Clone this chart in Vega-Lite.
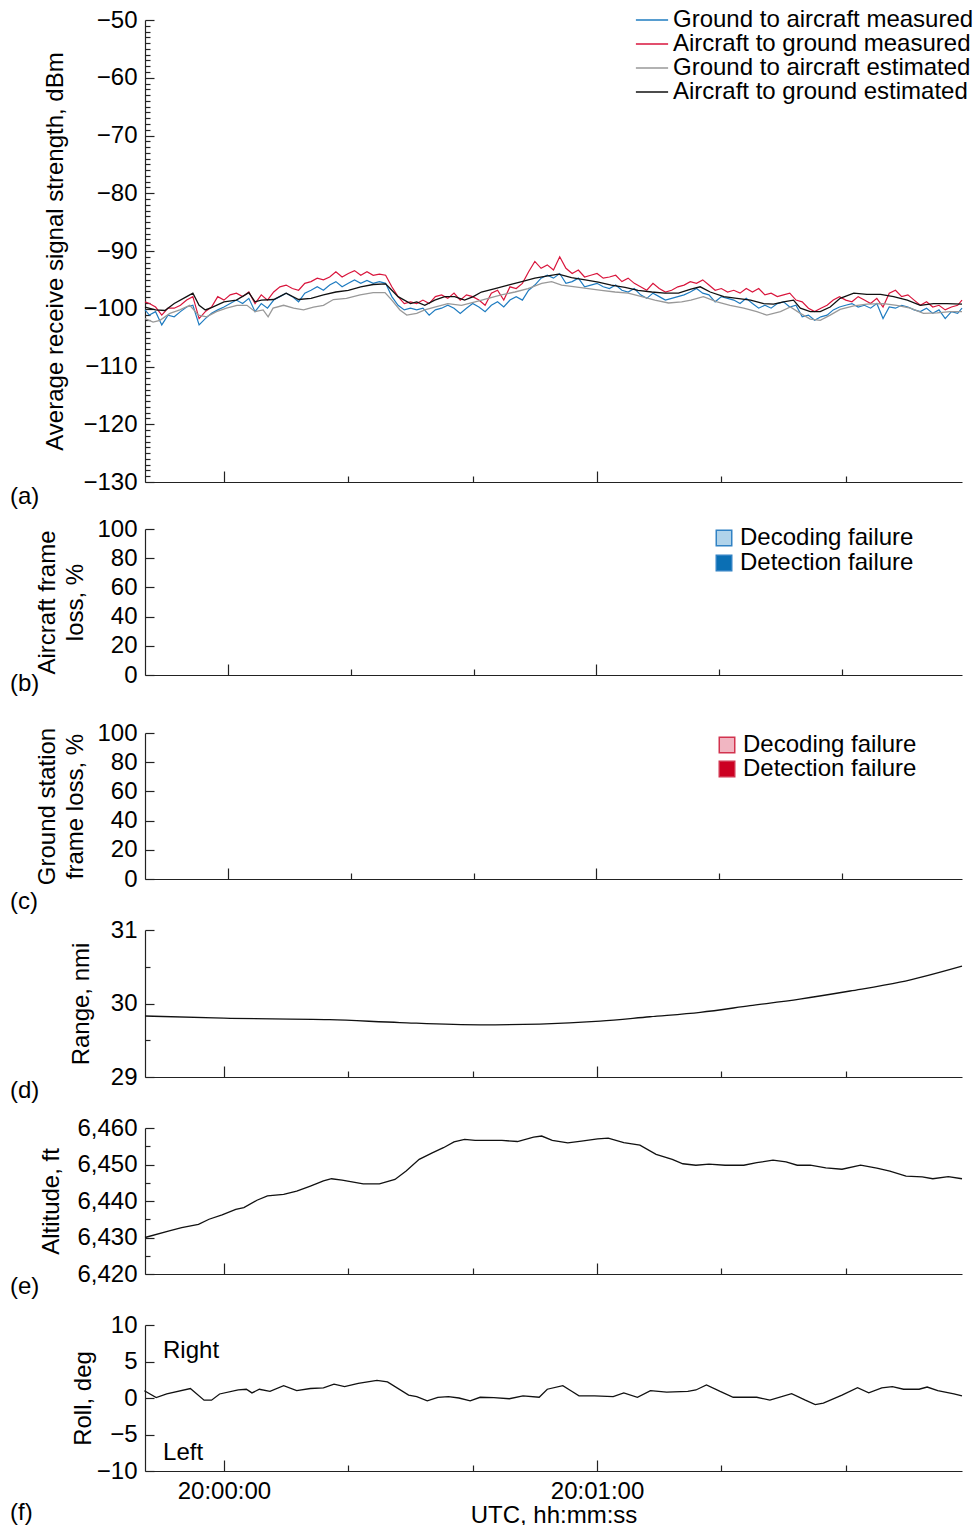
{
  "$schema": "https://vega.github.io/schema/vega-lite/v6.json",
  "background": "white",
  "padding": {"left": 10, "top": 8, "right": 5, "bottom": 0},
  "spacing": 47,
  "bounds": "flush",
  "resolve": {"scale": {"x": "independent", "y": "independent", "color": "independent"}},
  "vconcat": [
    {
      "width": 817,
      "height": 462,
      "title": {"text": "(a)", "orient": "bottom", "anchor": "start", "frame": "group", "dx": -135, "offset": -9},
      "encoding": {
        "x": {"field": "t", "type": "quantitative", "scale": {"domain": [-12.7, 118.7], "nice": false, "zero": false},
          "axis": {"values": [0, 20, 40, 60, 80, 100], "labels": false, "title": null, "tickSize": {"condition": {"test": "datum.value % 60 === 0", "value": -11}, "value": -6}}},
        "y": {"field": "v", "type": "quantitative", "scale": {"domain": [-130, -50], "nice": false, "zero": false},
          "axis": {"title": "Average receive signal strength, dBm", "titlePadding": 15, "labelPadding": 17,
            "values": [-130,-129,-128,-127,-126,-125,-124,-123,-122,-121,-120,-119,-118,-117,-116,-115,-114,-113,-112,-111,-110,-109,-108,-107,-106,-105,-104,-103,-102,-101,-100,-99,-98,-97,-96,-95,-94,-93,-92,-91,-90,-89,-88,-87,-86,-85,-84,-83,-82,-81,-80,-79,-78,-77,-76,-75,-74,-73,-72,-71,-70,-69,-68,-67,-66,-65,-64,-63,-62,-61,-60,-59,-58,-57,-56,-55,-54,-53,-52,-51,-50],
            "labelExpr": "datum.value % 10 === 0 ? format(datum.value, 'd') : ''",
            "tickSize": {"condition": {"test": "datum.value % 10 === 0", "value": -9}, "value": -5}}},
        "color": {"field": "s", "type": "nominal",
          "scale": {"domain": ["gm", "am", "ge", "ae"], "range": ["#1f7cc1", "#d9153c", "#999999", "#111111"]},
          "legend": {"orient": "none", "legendX": 495, "legendY": -12, "title": null, "symbolType": "M-2.3,0H2.3", "symbolSize": 196, "symbolStrokeWidth": 1.5, "labelOffset": 9, "rowPadding": 0,
            "labelExpr": "datum.label == 'gm' ? 'Ground to aircraft measured' : datum.label == 'am' ? 'Aircraft to ground measured' : datum.label == 'ge' ? 'Ground to aircraft estimated' : 'Aircraft to ground estimated'"}}
      },
      "layer": [
        {
          "data": {"values": [
            {"t":-12.7,"gm":-100.2,"am":-98.8},{"t":-12,"gm":-101.1,"am":-99.1},{"t":-11,"gm":-100.5,"am":-99.7},{"t":-10,"gm":-102.8,"am":-101.1},{"t":-9,"gm":-101.1,"am":-99.9},{"t":-8,"gm":-101.4,"am":-99.9},{"t":-7,"gm":-100.5,"am":-99.4},{"t":-6,"gm":-99.7,"am":-98.5},{"t":-5,"gm":-99.4,"am":-97.9},{"t":-4,"gm":-102.8,"am":-101.7},{"t":-3,"gm":-101.7,"am":-100.5},{"t":-2,"gm":-100.8,"am":-99.7},{"t":-1,"gm":-100.2,"am":-97.9},
            {"t":0,"gm":-99.7,"am":-98.5},{"t":1,"gm":-99.1,"am":-97.6},{"t":2,"gm":-98.5,"am":-97.3},{"t":3,"gm":-99.1,"am":-97.9},{"t":4,"gm":-98.2,"am":-97.1},{"t":5,"gm":-100.5,"am":-99.1},{"t":6,"gm":-99.1,"am":-97.6},{"t":7,"gm":-99.9,"am":-98.5},{"t":8,"gm":-98.5,"am":-97.1},{"t":9,"gm":-97.9,"am":-96.2},{"t":10,"gm":-97.3,"am":-95.9},{"t":11,"gm":-97.9,"am":-96.5},{"t":12,"gm":-98.8,"am":-96.8},{"t":13,"gm":-97.3,"am":-95.6},{"t":14,"gm":-96.8,"am":-95.3},{"t":15,"gm":-96.2,"am":-94.7},{"t":16,"gm":-96.8,"am":-95.0},{"t":17,"gm":-95.9,"am":-94.5},{"t":18,"gm":-95.3,"am":-93.6},{"t":19,"gm":-96.2,"am":-94.5},{"t":20,"gm":-95.6,"am":-93.9},{"t":21,"gm":-95.0,"am":-93.4},{"t":22,"gm":-95.6,"am":-94.2},{"t":23,"gm":-95.1,"am":-93.6},{"t":24,"gm":-95.6,"am":-94.2},{"t":25,"gm":-95.3,"am":-94.0},{"t":26,"gm":-95.6,"am":-94.2},{"t":27,"gm":-97.9,"am":-96.2},{"t":28,"gm":-99.4,"am":-97.9},{"t":29,"gm":-100.2,"am":-99.1},{"t":30,"gm":-99.9,"am":-98.8},{"t":31,"gm":-100.2,"am":-99.1},
            {"t":32,"gm":-99.9,"am":-98.5},{"t":33,"gm":-101.1,"am":-99.1},{"t":34,"gm":-100.2,"am":-97.9},{"t":35,"gm":-99.9,"am":-97.6},{"t":36,"gm":-99.4,"am":-98.2},{"t":37,"gm":-99.9,"am":-97.3},{"t":38,"gm":-100.8,"am":-98.5},{"t":39,"gm":-99.9,"am":-97.6},{"t":40,"gm":-99.1,"am":-97.9},{"t":41,"gm":-99.7,"am":-98.5},{"t":42,"gm":-100.5,"am":-99.4},{"t":43,"gm":-99.4,"am":-97.3},{"t":44,"gm":-98.8,"am":-96.8},{"t":45,"gm":-99.7,"am":-98.5},{"t":46,"gm":-98.5,"am":-96.2},{"t":47,"gm":-97.9,"am":-96.5},{"t":48,"gm":-98.5,"am":-95.6},{"t":49,"gm":-96.8,"am":-93.6},{"t":50,"gm":-95.9,"am":-91.8},{"t":51,"gm":-94.7,"am":-93.0},{"t":52,"gm":-94.2,"am":-92.4},{"t":53,"gm":-94.7,"am":-93.3},{"t":54,"gm":-93.9,"am":-91.0},{"t":55,"gm":-95.6,"am":-93.0},{"t":56,"gm":-95.3,"am":-93.9},{"t":57,"gm":-94.7,"am":-93.3},{"t":58,"gm":-96.2,"am":-94.5},{"t":59,"gm":-95.9,"am":-94.2},{"t":60,"gm":-95.6,"am":-93.9},
            {"t":61,"gm":-96.2,"am":-94.7},{"t":62,"gm":-96.5,"am":-94.5},{"t":63,"gm":-95.9,"am":-94.2},{"t":64,"gm":-96.8,"am":-95.3},{"t":65,"gm":-97.1,"am":-94.7},{"t":66,"gm":-96.5,"am":-95.6},{"t":67,"gm":-97.6,"am":-96.2},{"t":68,"gm":-98.2,"am":-96.8},{"t":69,"gm":-97.3,"am":-95.6},{"t":70,"gm":-97.9,"am":-96.5},{"t":71,"gm":-98.5,"am":-97.1},{"t":72,"gm":-98.2,"am":-96.8},{"t":73,"gm":-97.9,"am":-96.2},{"t":74,"gm":-97.6,"am":-95.9},{"t":75,"gm":-97.1,"am":-95.3},{"t":76,"gm":-96.5,"am":-95.6},{"t":77,"gm":-97.3,"am":-95.0},{"t":78,"gm":-97.6,"am":-95.9},{"t":79,"gm":-98.8,"am":-96.8},{"t":80,"gm":-97.9,"am":-96.5},{"t":81,"gm":-98.2,"am":-97.1},{"t":82,"gm":-98.5,"am":-96.8},{"t":83,"gm":-99.1,"am":-97.3},{"t":84,"gm":-98.2,"am":-96.5},{"t":85,"gm":-99.1,"am":-97.1},{"t":86,"gm":-99.9,"am":-96.5},{"t":87,"gm":-99.4,"am":-97.6},{"t":88,"gm":-99.9,"am":-97.3},{"t":89,"gm":-99.1,"am":-97.9},{"t":90,"gm":-98.8,"am":-97.6},
            {"t":91,"gm":-99.7,"am":-97.3},{"t":92,"gm":-99.4,"am":-98.5},{"t":93,"gm":-101.4,"am":-98.8},{"t":94,"gm":-101.1,"am":-99.9},{"t":95,"gm":-102.0,"am":-100.5},{"t":96,"gm":-101.4,"am":-99.9},{"t":97,"gm":-101.1,"am":-99.4},{"t":98,"gm":-100.2,"am":-98.5},{"t":99,"gm":-99.7,"am":-97.9},{"t":100,"gm":-99.4,"am":-98.5},{"t":101,"gm":-99.1,"am":-98.8},{"t":102,"gm":-99.7,"am":-97.9},{"t":103,"gm":-99.4,"am":-98.5},{"t":104,"gm":-99.9,"am":-99.1},{"t":105,"gm":-99.1,"am":-98.2},{"t":106,"gm":-101.7,"am":-99.7},{"t":107,"gm":-99.7,"am":-97.3},{"t":108,"gm":-99.9,"am":-96.8},{"t":109,"gm":-99.4,"am":-97.9},{"t":110,"gm":-99.7,"am":-97.6},{"t":111,"gm":-100.2,"am":-98.5},{"t":112,"gm":-100.5,"am":-99.4},{"t":113,"gm":-99.9,"am":-98.8},{"t":114,"gm":-100.8,"am":-99.7},{"t":115,"gm":-100.2,"am":-99.4},{"t":116,"gm":-101.7,"am":-100.2},{"t":117,"gm":-100.5,"am":-99.7},{"t":118,"gm":-100.8,"am":-99.4},{"t":118.7,"gm":-99.9,"am":-98.5}
          ]},
          "transform": [{"fold": ["gm", "am"], "as": ["s", "v"]}],
          "mark": {"type": "line", "strokeWidth": 1.2}
        },
        {
          "data": {"values": [
            {"t":-12.7,"s":"ge","v":-101.7},{"t":-11.4,"s":"ge","v":-102.3},{"t":-10.3,"s":"ge","v":-102.0},{"t":-8.7,"s":"ge","v":-100.8},{"t":-7.1,"s":"ge","v":-100.2},{"t":-5.5,"s":"ge","v":-99.4},{"t":-4.1,"s":"ge","v":-101.1},{"t":-2.8,"s":"ge","v":-101.4},{"t":-1.2,"s":"ge","v":-100.5},{"t":0.4,"s":"ge","v":-99.9},{"t":2.1,"s":"ge","v":-99.4},{"t":3.7,"s":"ge","v":-99.4},{"t":5,"s":"ge","v":-100.5},{"t":6.3,"s":"ge","v":-100.2},{"t":7.1,"s":"ge","v":-101.4},{"t":7.9,"s":"ge","v":-99.9},{"t":9.6,"s":"ge","v":-99.4},{"t":11.2,"s":"ge","v":-99.9},{"t":12.8,"s":"ge","v":-100.2},{"t":14.4,"s":"ge","v":-99.7},{"t":16,"s":"ge","v":-99.4},{"t":17.6,"s":"ge","v":-98.4},{"t":19.7,"s":"ge","v":-98.2},{"t":21.9,"s":"ge","v":-97.6},{"t":24,"s":"ge","v":-97.2},{"t":25.9,"s":"ge","v":-97.2},{"t":27,"s":"ge","v":-98.5},{"t":28.3,"s":"ge","v":-100.2},{"t":29.4,"s":"ge","v":-101.1},{"t":31,"s":"ge","v":-100.8},{"t":32.3,"s":"ge","v":-100.2},{"t":33.9,"s":"ge","v":-99.7},{"t":36,"s":"ge","v":-99.1},{"t":38.2,"s":"ge","v":-99.4},{"t":40.4,"s":"ge","v":-98.8},{"t":42.5,"s":"ge","v":-98.2},{"t":44.6,"s":"ge","v":-97.6},{"t":46.8,"s":"ge","v":-97.1},{"t":48.9,"s":"ge","v":-96.5},{"t":51.1,"s":"ge","v":-95.6},{"t":52.7,"s":"ge","v":-95.3},{"t":54.3,"s":"ge","v":-95.9},{"t":56.5,"s":"ge","v":-96.2},{"t":58.6,"s":"ge","v":-96.5},{"t":60.7,"s":"ge","v":-96.8},{"t":62.9,"s":"ge","v":-97.1},{"t":65,"s":"ge","v":-97.3},{"t":67.2,"s":"ge","v":-97.9},{"t":69.3,"s":"ge","v":-98.5},{"t":71.5,"s":"ge","v":-99.0},{"t":73.6,"s":"ge","v":-98.8},{"t":75.1,"s":"ge","v":-98.5},{"t":77.1,"s":"ge","v":-97.9},{"t":79.3,"s":"ge","v":-98.8},{"t":81.4,"s":"ge","v":-99.4},{"t":83.6,"s":"ge","v":-99.9},{"t":85.7,"s":"ge","v":-100.5},{"t":87.3,"s":"ge","v":-101.1},{"t":89.5,"s":"ge","v":-100.5},{"t":91.1,"s":"ge","v":-99.7},{"t":92.7,"s":"ge","v":-100.8},{"t":94.3,"s":"ge","v":-101.8},{"t":95.9,"s":"ge","v":-102.0},{"t":97.5,"s":"ge","v":-101.1},{"t":99.1,"s":"ge","v":-100.1},{"t":101.3,"s":"ge","v":-99.5},{"t":103.4,"s":"ge","v":-99.2},{"t":106.1,"s":"ge","v":-99.1},{"t":108.2,"s":"ge","v":-99.4},{"t":110.4,"s":"ge","v":-99.9},{"t":112.5,"s":"ge","v":-100.8},{"t":114.7,"s":"ge","v":-100.7},{"t":116.8,"s":"ge","v":-100.5},{"t":118.7,"s":"ge","v":-100.5},
            {"t":-12.7,"s":"ae","v":-99.7},{"t":-11,"s":"ae","v":-100.2},{"t":-9.5,"s":"ae","v":-100.3},{"t":-8,"s":"ae","v":-99.1},{"t":-6,"s":"ae","v":-97.9},{"t":-5,"s":"ae","v":-97.3},{"t":-4,"s":"ae","v":-99.4},{"t":-3,"s":"ae","v":-100.2},{"t":-2,"s":"ae","v":-99.8},{"t":0,"s":"ae","v":-98.8},{"t":2,"s":"ae","v":-98.5},{"t":4,"s":"ae","v":-97.2},{"t":5,"s":"ae","v":-98.8},{"t":6,"s":"ae","v":-98.5},{"t":8,"s":"ae","v":-98.4},{"t":10,"s":"ae","v":-97.3},{"t":12,"s":"ae","v":-98.4},{"t":14,"s":"ae","v":-98.2},{"t":16,"s":"ae","v":-97.6},{"t":18,"s":"ae","v":-97.1},{"t":20,"s":"ae","v":-96.8},{"t":22,"s":"ae","v":-96.2},{"t":24,"s":"ae","v":-95.8},{"t":26,"s":"ae","v":-95.7},{"t":27,"s":"ae","v":-96.8},{"t":28,"s":"ae","v":-97.9},{"t":30,"s":"ae","v":-99.1},{"t":31,"s":"ae","v":-98.8},{"t":32.3,"s":"ae","v":-99.4},{"t":33.9,"s":"ae","v":-98.5},{"t":35.5,"s":"ae","v":-97.9},{"t":37.1,"s":"ae","v":-97.9},{"t":38.7,"s":"ae","v":-98.5},{"t":40.1,"s":"ae","v":-97.9},{"t":41.4,"s":"ae","v":-97.1},{"t":43.6,"s":"ae","v":-96.5},{"t":45.7,"s":"ae","v":-95.9},{"t":47.9,"s":"ae","v":-95.3},{"t":50,"s":"ae","v":-94.7},{"t":52.1,"s":"ae","v":-94.3},{"t":53.8,"s":"ae","v":-94.0},{"t":55.9,"s":"ae","v":-94.6},{"t":58.1,"s":"ae","v":-95.0},{"t":60.2,"s":"ae","v":-95.4},{"t":62.3,"s":"ae","v":-95.9},{"t":64.5,"s":"ae","v":-96.3},{"t":66.6,"s":"ae","v":-96.8},{"t":68.8,"s":"ae","v":-97.1},{"t":70.9,"s":"ae","v":-97.3},{"t":73.1,"s":"ae","v":-97.3},{"t":75.1,"s":"ae","v":-96.6},{"t":76.6,"s":"ae","v":-96.2},{"t":78.2,"s":"ae","v":-97.1},{"t":80.4,"s":"ae","v":-97.9},{"t":82.5,"s":"ae","v":-98.2},{"t":84.7,"s":"ae","v":-98.5},{"t":86.8,"s":"ae","v":-99.1},{"t":88.4,"s":"ae","v":-99.2},{"t":90,"s":"ae","v":-98.8},{"t":91.6,"s":"ae","v":-98.5},{"t":92.7,"s":"ae","v":-99.9},{"t":94.3,"s":"ae","v":-100.5},{"t":95.9,"s":"ae","v":-100.5},{"t":97.5,"s":"ae","v":-99.7},{"t":99.1,"s":"ae","v":-98.2},{"t":101.3,"s":"ae","v":-97.3},{"t":103.4,"s":"ae","v":-97.5},{"t":105.6,"s":"ae","v":-97.5},{"t":107.7,"s":"ae","v":-97.9},{"t":109.9,"s":"ae","v":-98.5},{"t":112,"s":"ae","v":-99.4},{"t":114.1,"s":"ae","v":-99.1},{"t":116.3,"s":"ae","v":-99.1},{"t":118.7,"s":"ae","v":-99.2}
          ]},
          "mark": {"type": "line", "strokeWidth": 1.3}
        }
      ]
    },
    {
      "spacing": 58,
      "bounds": "flush",
      "resolve": {"scale": {"x": "independent", "y": "independent", "color": "independent"}},
      "vconcat": [
        {
          "width": 817,
          "height": 146,
          "title": {"text": "(b)", "orient": "bottom", "anchor": "start", "frame": "group", "dx": -135, "offset": -15},
          "data": {"values": [
            {"t": 0, "type": "Decoding failure", "loss": 0},
            {"t": 0, "type": "Detection failure", "loss": 0},
            {"t": 60, "type": "Decoding failure", "loss": 0},
            {"t": 60, "type": "Detection failure", "loss": 0}
          ]},
          "mark": {"type": "bar"},
          "encoding": {
            "x": {"field": "t", "type": "quantitative", "scale": {"domain": [-12.7, 118.7], "nice": false, "zero": false},
              "axis": {"values": [0, 20, 40, 60, 80, 100], "labels": false, "title": null, "tickSize": {"condition": {"test": "datum.value % 60 === 0", "value": -11}, "value": -6}}},
            "y": {"field": "loss", "type": "quantitative", "stack": null, "scale": {"domain": [0, 100], "nice": false},
              "axis": {"title": ["Aircraft frame", "loss, %"], "titleLineHeight": 28, "titlePadding": 9, "values": [0, 20, 40, 60, 80, 100], "tickSize": -9, "labelPadding": 17}},
            "color": {"field": "type", "type": "nominal",
              "scale": {"domain": ["Decoding failure", "Detection failure"], "range": ["#b0d3ea", "#0b6fb4"]},
              "legend": {"orient": "none", "legendX": 567, "legendY": -3, "title": null, "symbolType": "square", "symbolSize": 240, "symbolStrokeColor": "#3182c4", "symbolStrokeWidth": 1.5, "labelOffset": 4, "rowPadding": 1}}
          }
        },
        {
          "spacing": 51,
          "bounds": "flush",
          "resolve": {"scale": {"x": "independent", "y": "independent", "color": "independent"}},
          "vconcat": [
            {
              "width": 817,
              "height": 146,
              "title": {"text": "(c)", "orient": "bottom", "anchor": "start", "frame": "group", "dx": -135, "offset": -1},
              "data": {"values": [
                {"t": 0, "type": "Decoding failure", "loss": 0},
                {"t": 0, "type": "Detection failure", "loss": 0},
                {"t": 60, "type": "Decoding failure", "loss": 0},
                {"t": 60, "type": "Detection failure", "loss": 0}
              ]},
              "mark": {"type": "bar"},
              "encoding": {
                "x": {"field": "t", "type": "quantitative", "scale": {"domain": [-12.7, 118.7], "nice": false, "zero": false},
                  "axis": {"values": [0, 20, 40, 60, 80, 100], "labels": false, "title": null, "tickSize": {"condition": {"test": "datum.value % 60 === 0", "value": -11}, "value": -6}}},
                "y": {"field": "loss", "type": "quantitative", "stack": null, "scale": {"domain": [0, 100], "nice": false},
                  "axis": {"title": ["Ground station", "frame loss, %"], "titleLineHeight": 28, "titlePadding": 9, "values": [0, 20, 40, 60, 80, 100], "tickSize": -9, "labelPadding": 17}},
                "color": {"field": "type", "type": "nominal",
                  "scale": {"domain": ["Decoding failure", "Detection failure"], "range": ["#f1b6c2", "#cc0022"]},
                  "legend": {"orient": "none", "legendX": 570, "legendY": 0, "title": null, "symbolType": "square", "symbolSize": 240, "symbolStrokeColor": "#d2334e", "symbolStrokeWidth": 1.5, "labelOffset": 4, "rowPadding": 0}}
              }
            },
            {
              "width": 817,
              "height": 147,
              "title": {"text": "(d)", "orient": "bottom", "anchor": "start", "frame": "group", "dx": -135, "offset": -10},
              "data": {"values": [
                {"t":-12.7,"range":29.83},{"t":0,"range":29.80},{"t":17,"range":29.78},{"t":28.3,"range":29.74},{"t":41.2,"range":29.71},{"t":50.8,"range":29.72},{"t":60.5,"range":29.76},{"t":68.5,"range":29.82},{"t":76.6,"range":29.88},{"t":84.6,"range":29.97},{"t":92.6,"range":30.06},{"t":100.7,"range":30.17},{"t":108.7,"range":30.29},{"t":118.7,"range":30.51}
              ]},
              "mark": {"type": "line", "strokeWidth": 1.3, "color": "#111111", "interpolate": "monotone"},
              "encoding": {
                "x": {"field": "t", "type": "quantitative", "scale": {"domain": [-12.7, 118.7], "nice": false, "zero": false},
                  "axis": {"values": [0, 20, 40, 60, 80, 100], "labels": false, "title": null, "tickSize": {"condition": {"test": "datum.value % 60 === 0", "value": -11}, "value": -6}}},
                "y": {"field": "range", "type": "quantitative", "scale": {"domain": [29, 31], "nice": false, "zero": false},
                  "axis": {"title": "Range, nmi", "titlePadding": 17, "values": [29, 29.5, 30, 30.5, 31], "labelPadding": 17,
                    "labelExpr": "datum.value % 1 === 0 ? format(datum.value, 'd') : ''",
                    "tickSize": {"condition": {"test": "datum.value % 1 === 0", "value": -9}, "value": -5}}}
              }
            },
            {
              "width": 817,
              "height": 146,
              "title": {"text": "(e)", "orient": "bottom", "anchor": "start", "frame": "group", "dx": -135, "offset": -11},
              "data": {"values": [
                {"t":-12.7,"alt":6430.0},{"t":-8.8,"alt":6431.8},{"t":-6.8,"alt":6432.7},{"t":-4.1,"alt":6433.6},{"t":-2.4,"alt":6435.0},{"t":-0.3,"alt":6436.2},{"t":1.9,"alt":6437.7},{"t":3.2,"alt":6438.2},{"t":5.3,"alt":6440.2},{"t":7.0,"alt":6441.4},{"t":9.6,"alt":6441.8},{"t":11.7,"alt":6442.7},{"t":13.9,"alt":6444.1},{"t":16.0,"alt":6445.5},{"t":17.3,"alt":6446.1},{"t":19.0,"alt":6445.7},{"t":22.4,"alt":6444.7},{"t":25.0,"alt":6444.7},{"t":27.5,"alt":6445.9},{"t":29.3,"alt":6448.2},{"t":31.4,"alt":6451.4},{"t":33.5,"alt":6453.2},{"t":35.3,"alt":6454.6},{"t":37.0,"alt":6456.2},{"t":38.7,"alt":6456.9},{"t":40.4,"alt":6456.6},{"t":44.7,"alt":6456.6},{"t":47.2,"alt":6456.3},{"t":49.8,"alt":6457.5},{"t":51.1,"alt":6457.8},{"t":52.8,"alt":6456.6},{"t":55.3,"alt":6455.9},{"t":57.5,"alt":6456.4},{"t":60.1,"alt":6457.0},{"t":61.8,"alt":6457.2},{"t":64.3,"alt":6456.0},{"t":66.9,"alt":6455.3},{"t":69.5,"alt":6452.8},{"t":72.1,"alt":6451.4},{"t":73.8,"alt":6450.2},{"t":75.9,"alt":6449.8},{"t":78.0,"alt":6450.1},{"t":80.6,"alt":6449.8},{"t":83.6,"alt":6449.8},{"t":85.7,"alt":6450.5},{"t":88.3,"alt":6451.2},{"t":90.4,"alt":6450.7},{"t":92.2,"alt":6449.8},{"t":94.3,"alt":6449.8},{"t":96.8,"alt":6449.1},{"t":99.4,"alt":6448.7},{"t":102.4,"alt":6449.8},{"t":105.0,"alt":6449.0},{"t":107.1,"alt":6448.2},{"t":109.7,"alt":6446.8},{"t":112.3,"alt":6446.6},{"t":114.0,"alt":6446.1},{"t":116.5,"alt":6446.7},{"t":118.7,"alt":6446.1}
              ]},
              "mark": {"type": "line", "strokeWidth": 1.3, "color": "#111111"},
              "encoding": {
                "x": {"field": "t", "type": "quantitative", "scale": {"domain": [-12.7, 118.7], "nice": false, "zero": false},
                  "axis": {"values": [0, 20, 40, 60, 80, 100], "labels": false, "title": null, "tickSize": {"condition": {"test": "datum.value % 60 === 0", "value": -11}, "value": -6}}},
                "y": {"field": "alt", "type": "quantitative", "scale": {"domain": [6420, 6460], "nice": false, "zero": false},
                  "axis": {"title": "Altitude, ft", "titlePadding": 13, "values": [6420, 6425, 6430, 6435, 6440, 6445, 6450, 6455, 6460], "labelPadding": 17,
                    "labelExpr": "datum.value % 10 === 0 ? format(datum.value, ',d') : ''",
                    "tickSize": {"condition": {"test": "datum.value % 10 === 0", "value": -9}, "value": -5}}}
              }
            },
            {
              "width": 817,
              "height": 146,
              "title": {"text": "(f)", "orient": "bottom", "anchor": "start", "frame": "group", "dx": -135, "offset": 4, "dy": -30},
              "encoding": {
                "x": {"field": "t", "type": "quantitative", "scale": {"domain": [-12.7, 118.7], "nice": false, "zero": false},
                  "axis": {"values": [0, 20, 40, 60, 80, 100], "title": "UTC, hh:mm:ss", "titlePadding": -5, "labelPadding": 19,
                    "labelExpr": "datum.value === 0 ? '20:00:00' : datum.value === 60 ? '20:01:00' : ''",
                    "tickSize": {"condition": {"test": "datum.value % 60 === 0", "value": -11}, "value": -6}}},
                "y": {"field": "roll", "type": "quantitative", "scale": {"domain": [-10, 10], "nice": false, "zero": false},
                  "axis": {"title": "Roll, deg", "titlePadding": 1, "values": [-10, -5, 0, 5, 10], "format": "d", "tickSize": -9, "labelPadding": 17}}
              },
              "layer": [
                {
                  "data": {"values": [
                    {"t":-12.8,"roll":1.0},{"t":-10.9,"roll":0.05},{"t":-9.2,"roll":0.55},{"t":-5.4,"roll":1.3},{"t":-3.2,"roll":-0.3},{"t":-2.0,"roll":-0.3},{"t":-0.7,"roll":0.55},{"t":2.3,"roll":1.1},{"t":3.6,"roll":1.2},{"t":4.5,"roll":0.7},{"t":5.7,"roll":1.2},{"t":7.4,"roll":0.9},{"t":9.6,"roll":1.7},{"t":11.7,"roll":1.0},{"t":13.9,"roll":1.3},{"t":16.0,"roll":1.4},{"t":17.7,"roll":1.9},{"t":19.4,"roll":1.55},{"t":21.6,"roll":2.0},{"t":24.6,"roll":2.4},{"t":26.3,"roll":2.2},{"t":29.7,"roll":0.4},{"t":31.0,"roll":0.2},{"t":32.7,"roll":-0.4},{"t":34.4,"roll":0.1},{"t":36.1,"roll":0.2},{"t":37.8,"roll":0.0},{"t":39.6,"roll":-0.4},{"t":41.2,"roll":0.1},{"t":43.4,"roll":0.05},{"t":45.9,"roll":-0.1},{"t":48.1,"roll":0.3},{"t":50.7,"roll":0.1},{"t":52.0,"roll":1.2},{"t":54.5,"roll":1.7},{"t":55.8,"roll":1.0},{"t":57.1,"roll":0.3},{"t":59.6,"roll":0.3},{"t":62.6,"roll":0.2},{"t":64.3,"roll":0.7},{"t":66.5,"roll":0.1},{"t":68.6,"roll":1.0},{"t":71.2,"roll":0.8},{"t":74.6,"roll":0.9},{"t":75.9,"roll":1.1},{"t":77.6,"roll":1.8},{"t":79.8,"roll":0.9},{"t":81.9,"roll":0.1},{"t":85.7,"roll":0.1},{"t":87.8,"roll":-0.3},{"t":91.3,"roll":0.6},{"t":93.5,"roll":-0.3},{"t":95.1,"roll":-0.9},{"t":96.4,"roll":-0.7},{"t":99.4,"roll":0.4},{"t":101.9,"roll":1.4},{"t":103.7,"roll":0.7},{"t":105.8,"roll":1.4},{"t":107.5,"roll":1.55},{"t":109.3,"roll":1.2},{"t":111.8,"roll":1.2},{"t":113.1,"roll":1.5},{"t":114.8,"roll":1.0},{"t":117.4,"roll":0.55},{"t":118.7,"roll":0.3}
                  ]},
                  "mark": {"type": "line", "strokeWidth": 1.3, "color": "#111111"}
                },
                {
                  "data": {"values": [
                    {"t": -9.8, "roll": 6.4, "label": "Right"},
                    {"t": -9.8, "roll": -7.5, "label": "Left"}
                  ]},
                  "mark": {"type": "text", "align": "left", "baseline": "middle", "font": "Liberation Sans", "fontSize": 24, "color": "#000000"},
                  "encoding": {"text": {"field": "label", "type": "nominal"}}
                }
              ]
            }
          ]
        }
      ]
    }
  ],
  "config": {
    "font": "Liberation Sans",
    "view": {"stroke": null},
    "axis": {"labelFont": "Liberation Sans", "labelFontSize": 24, "labelColor": "#000000", "titleFont": "Liberation Sans", "titleFontSize": 24, "titleFontWeight": "normal", "titleColor": "#000000", "domainColor": "#222222", "tickColor": "#222222", "domainWidth": 1.2, "tickWidth": 1.2, "grid": false, "labelOverlap": false, "labelFlush": false},
    "legend": {"labelFont": "Liberation Sans", "labelFontSize": 24, "labelColor": "#000000", "padding": 0, "labelLimit": 500},
    "title": {"font": "Liberation Sans", "fontSize": 24, "fontWeight": "normal", "color": "#000000"}
  }
}
